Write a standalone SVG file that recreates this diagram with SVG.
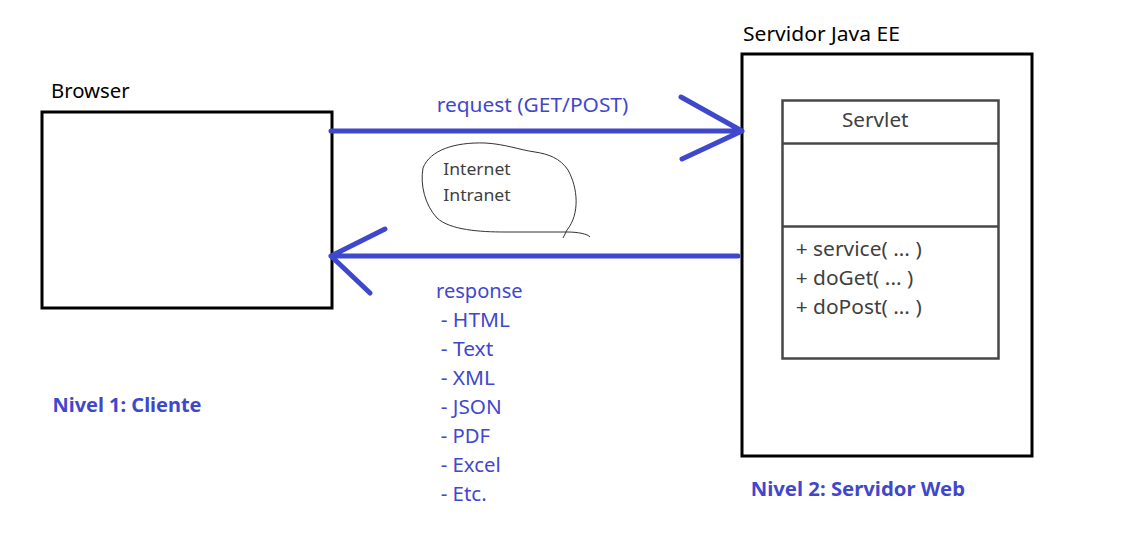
<svg xmlns="http://www.w3.org/2000/svg" width="1122" height="554" viewBox="0 0 1122 554">
<style>
.t{font-family:"Noto Sans","Open Sans","DejaVu Sans",sans-serif;font-size:19px}
.blk{fill:#000}
.blue{fill:#3f48cc}
.gray{fill:#404040}
.bold{font-weight:bold}
.box{fill:none;stroke:#000;stroke-width:3}
.uml{fill:none;stroke:#474747;stroke-width:2.5}
.arr{fill:none;stroke:#3f48cc;stroke-width:5;stroke-linecap:round;stroke-linejoin:round}
</style>
<rect width="1122" height="554" fill="#fff"/>
<g id="browser">
<rect class="box" x="42" y="112" width="290" height="196"/>
<text class="t blk" x="51" y="98" textLength="78.6" lengthAdjust="spacingAndGlyphs">Browser</text>
</g>
<g id="nivel1">
<text class="t blue bold" x="52.5" y="411.5" textLength="149" lengthAdjust="spacingAndGlyphs">Nivel 1: Cliente</text>
</g>
<g id="servidor">
<rect class="box" x="742" y="54" width="290" height="402"/>
<text class="t blk" x="743" y="41" textLength="157" lengthAdjust="spacingAndGlyphs">Servidor Java EE</text>
</g>
<g id="servlet">
<rect class="uml" x="782.5" y="100.5" width="216" height="258"/>
<line class="uml" x1="782.5" y1="143.5" x2="998.5" y2="143.5"/>
<line class="uml" x1="782.5" y1="226.5" x2="998.5" y2="226.5"/>
<text class="t gray" x="842" y="127" textLength="66.6" lengthAdjust="spacingAndGlyphs">Servlet</text>
<text class="t gray" x="795.7" y="256" textLength="126" lengthAdjust="spacingAndGlyphs">+ service( ... )</text>
<text class="t gray" x="795.7" y="285" textLength="117.6" lengthAdjust="spacingAndGlyphs">+ doGet( ... )</text>
<text class="t gray" x="795.7" y="314" textLength="126" lengthAdjust="spacingAndGlyphs">+ doPost( ... )</text>
</g>
<g id="nivel2">
<text class="t blue bold" x="750.7" y="496" textLength="214.3" lengthAdjust="spacingAndGlyphs">Nivel 2: Servidor Web</text>
</g>
<g id="cloud">
<path d="M567,230 C580,214 578,188 568,170 C560,158 548,154 535,152 C520,150 505,144 485,143 C455,142 430,150 423,168 C420,185 425,205 437,218 C450,230 480,232 505,232 L567,232 C578,232 588,234 590,237 M567,230 L563,238" fill="none" stroke="#333" stroke-width="1"/>
<text class="t gray" x="443.3" y="175" style="font-size:17px" textLength="67.4" lengthAdjust="spacingAndGlyphs">Internet</text>
<text class="t gray" x="443.3" y="201" style="font-size:17px" textLength="67.4" lengthAdjust="spacingAndGlyphs">Intranet</text>
</g>
<g id="connectors">
<path class="arr" d="M331,131 L742,131 M681,97 L742,131 L682,159"/>
<path class="arr" d="M738,256 L331,256 M385,229 L331,256 L370,293"/>
</g>
<g id="labels">
<text class="t blue" x="436.7" y="112" textLength="191.6" lengthAdjust="spacingAndGlyphs">request (GET/POST)</text>
<text class="t blue" x="436" y="298" textLength="86.7" lengthAdjust="spacingAndGlyphs">response</text>
<text class="t blue" x="440.7" y="327" textLength="69.3" lengthAdjust="spacingAndGlyphs">- HTML</text>
<text class="t blue" x="440.7" y="356" textLength="52.6" lengthAdjust="spacingAndGlyphs">- Text</text>
<text class="t blue" x="440.7" y="385" textLength="54.3" lengthAdjust="spacingAndGlyphs">- XML</text>
<text class="t blue" x="440.7" y="414" textLength="61" lengthAdjust="spacingAndGlyphs">- JSON</text>
<text class="t blue" x="440.7" y="443" textLength="49.3" lengthAdjust="spacingAndGlyphs">- PDF</text>
<text class="t blue" x="440.7" y="472" textLength="60" lengthAdjust="spacingAndGlyphs">- Excel</text>
<text class="t blue" x="440.7" y="501" textLength="46" lengthAdjust="spacingAndGlyphs">- Etc.</text>
</g>
</svg>
